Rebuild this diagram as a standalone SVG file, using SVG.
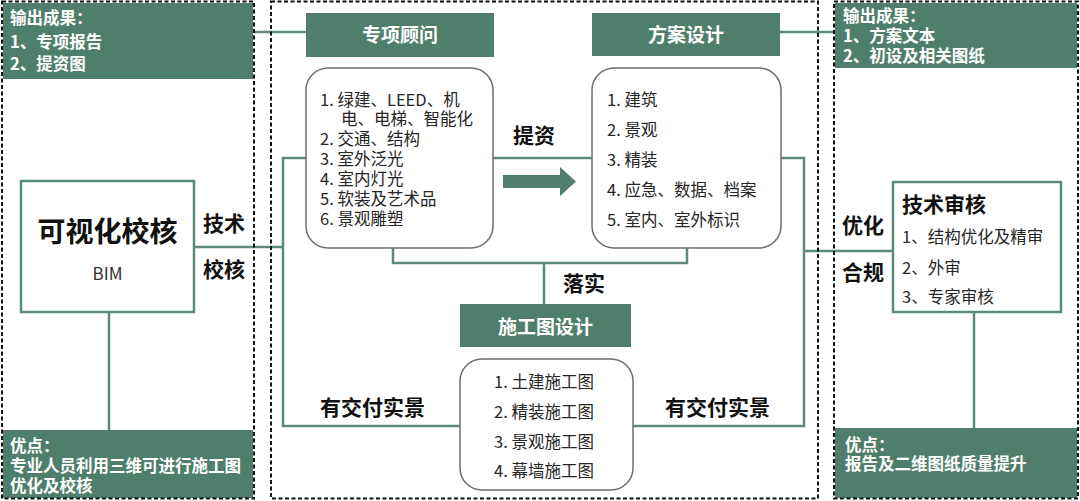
<svg xmlns="http://www.w3.org/2000/svg" width="1080" height="501" viewBox="0 0 1080 501">
<style>
.t{font-family:"Noto Sans CJK SC","Liberation Sans",sans-serif}
.panel{fill:none;stroke:#111;stroke-width:2;stroke-dasharray:4 2.5}
.gfill{fill:#4f7f6c}
.hdr{font-family:"Noto Sans CJK SC","Liberation Sans",sans-serif;font-weight:bold;fill:#fff;font-size:19px;text-anchor:middle}
.note{font-family:"Noto Sans CJK SC","Liberation Sans",sans-serif;font-weight:bold;fill:#fff;font-size:16.5px}
.item{font-family:"Noto Sans CJK SC","Liberation Sans",sans-serif;fill:#262626;font-size:16.5px}
.lbl{font-family:"Noto Sans CJK SC","Liberation Sans",sans-serif;font-weight:bold;fill:#111;font-size:21px}
.rbox{fill:#fff;stroke:#6e6e6e;stroke-width:1.5}
.gbox{fill:#fff;stroke:#5b8a78;stroke-width:2.5}
.conn{fill:none;stroke:#5b8a78;stroke-width:2.5}
</style>
<rect width="1080" height="501" fill="#fff"/>

<g id="connectors">
<line class="conn" x1="254" y1="32" x2="306" y2="32"/>
<line class="conn" x1="780" y1="32" x2="835" y2="32"/>
<line class="conn" x1="194" y1="247" x2="283" y2="247"/>
<polyline class="conn" points="306,158 283,158 283,426 460,426"/>
<line class="conn" x1="109" y1="312" x2="109" y2="430"/>
<line class="conn" x1="493" y1="158" x2="592" y2="158"/>
<polyline class="conn" points="393,248 393,263 687,263 687,248"/>
<line class="conn" x1="544" y1="263" x2="544" y2="304"/>
<polyline class="conn" points="781,158 804,158 804,426 633,426"/>
<line class="conn" x1="804" y1="251" x2="893" y2="251"/>
<line class="conn" x1="974" y1="312" x2="974" y2="428"/>
<polygon class="gfill" points="503,175 560,175 560,167 576,181.5 560,196 560,188 503,188"/>
</g>

<g id="left-panel">
<rect class="gfill" x="3" y="3" width="250" height="76"/>
<text class="note" x="10" y="24">输出成果：</text>
<text class="note" x="10" y="47.5">1、专项报告</text>
<text class="note" x="10" y="69.5">2、提资图</text>
<rect class="gfill" x="3" y="430" width="250" height="68"/>
<text class="note" x="10" y="451.5">优点：</text>
<text class="note" x="10" y="471.5">专业人员利用三维可进行施工图</text>
<text class="note" x="10" y="491.5">优化及校核</text>
<rect class="panel" x="2" y="1.5" width="252" height="497"/>
</g>

<g id="bim-node">
<rect class="gbox" x="21" y="181" width="173" height="131"/>
<text class="t" x="107.5" y="242" font-size="28" font-weight="bold" fill="#111" text-anchor="middle">可视化校核</text>
<text class="t" x="107.5" y="280" font-size="17" fill="#333" text-anchor="middle">BIM</text>
</g>

<g id="left-labels">
<text class="lbl" x="203" y="231">技术</text>
<text class="lbl" x="203" y="277">校核</text>
</g>

<g id="center-panel">
<rect class="panel" x="271" y="1.5" width="547" height="497"/>
</g>

<g id="zhuanxiang">
<rect class="gfill" x="306" y="13" width="188" height="44"/>
<text class="hdr" x="400" y="42">专项顾问</text>
<rect class="rbox" x="306" y="68" width="187" height="180" rx="22"/>
<text class="item" x="320" y="106">1. 绿建、LEED、机</text>
<text class="item" x="341" y="124.5">电、电梯、智能化</text>
<text class="item" x="320" y="144.5">2. 交通、结构</text>
<text class="item" x="320" y="164.5">3. 室外泛光</text>
<text class="item" x="320" y="184.5">4. 室内灯光</text>
<text class="item" x="320" y="205">5. 软装及艺术品</text>
<text class="item" x="320" y="224.5">6. 景观雕塑</text>
</g>

<g id="fangan">
<rect class="gfill" x="592" y="13" width="188" height="43"/>
<text class="hdr" x="686" y="42">方案设计</text>
<rect class="rbox" x="592" y="68" width="189" height="180" rx="22"/>
<text class="item" x="607" y="106">1. 建筑</text>
<text class="item" x="607" y="136">2. 景观</text>
<text class="item" x="607" y="166">3. 精装</text>
<text class="item" x="607" y="196">4. 应急、数据、档案</text>
<text class="item" x="607" y="226">5. 室内、室外标识</text>
</g>

<g id="center-labels">
<text class="lbl" x="513" y="142.5">提资</text>
<text class="lbl" x="563" y="290.5">落实</text>
<text class="lbl" x="320" y="414.5">有交付实景</text>
<text class="lbl" x="665" y="414.5">有交付实景</text>
</g>

<g id="shigongtu">
<rect class="gfill" x="460" y="304" width="171" height="43"/>
<text class="hdr" x="545.5" y="334">施工图设计</text>
<rect class="rbox" x="460" y="359" width="173" height="131" rx="22"/>
<text class="item" x="494" y="388">1. 土建施工图</text>
<text class="item" x="494" y="418">2. 精装施工图</text>
<text class="item" x="494" y="448">3. 景观施工图</text>
<text class="item" x="494" y="477">4. 幕墙施工图</text>
</g>

<g id="right-panel">
<rect class="gfill" x="835" y="3" width="242" height="65"/>
<text class="note" x="843" y="21.5" font-size="16">输出成果：</text>
<text class="note" x="843" y="41.5" font-size="16">1、方案文本</text>
<text class="note" x="843" y="61.5" font-size="16">2、初设及相关图纸</text>
<rect class="gfill" x="835" y="428" width="242" height="70"/>
<text class="note" x="845" y="450.5">优点：</text>
<text class="note" x="845" y="469.5">报告及二维图纸质量提升</text>
<rect class="panel" x="834" y="1.5" width="244" height="497"/>
</g>

<g id="review-node">
<rect class="gbox" x="893" y="182" width="168" height="130"/>
<text class="t" x="902" y="211.5" font-size="21" font-weight="bold" fill="#111">技术审核</text>
<text class="item" x="902" y="243">1、结构优化及精审</text>
<text class="item" x="902" y="274">2、外审</text>
<text class="item" x="902" y="303">3、专家审核</text>
</g>

<g id="right-labels">
<text class="lbl" x="842" y="232.5">优化</text>
<text class="lbl" x="842" y="279.5">合规</text>
</g>
</svg>
